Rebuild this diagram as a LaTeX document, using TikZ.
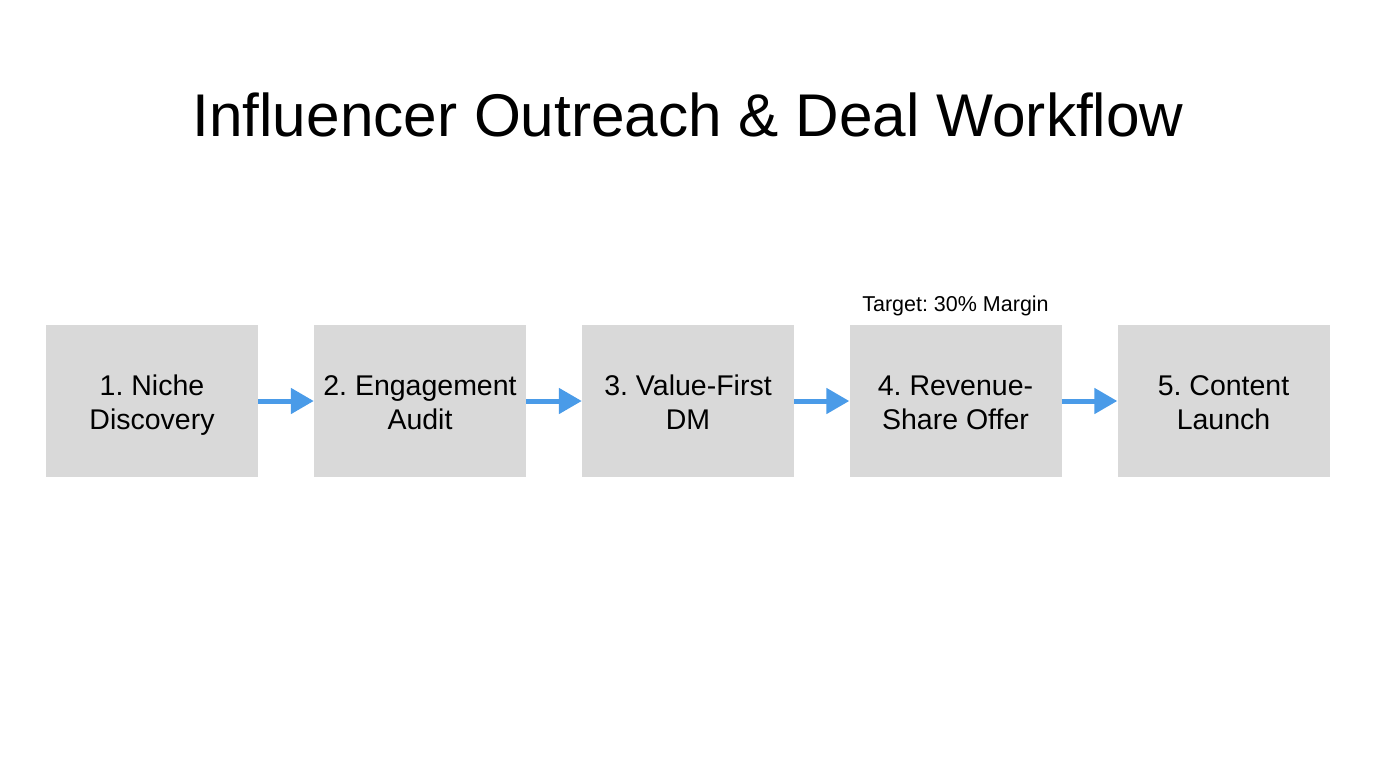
\documentclass[tikz,border=0pt]{standalone}
\usepackage{fontspec}
\setmainfont{Liberation Sans}
\usetikzlibrary{arrows.meta}
\frenchspacing
\definecolor{boxgray}{HTML}{D9D9D9}
\definecolor{arrowblue}{HTML}{4A9BE8}
\newcommand{\topstrut}{\rule{0pt}{34pt}}
\tikzset{
  stepbox/.style={fill=boxgray, draw=none, minimum width=212pt, minimum height=152pt, inner sep=0pt, align=center, font=\fontsize{28.5}{34}\selectfont, text=black},
  flow/.style={draw=arrowblue, line width=5pt, -{Triangle[length=23pt,width=25pt]}, shorten >=0pt}
}
\begin{document}
\begin{tikzpicture}[x=1pt,y=-1pt]
\useasboundingbox (0,0) rectangle (1376,768);
\node[font=\fontsize{60.3}{70}\selectfont] (title) at (688,115) {Influencer Outreach \& Deal Workflow};
\node[stepbox] (s1) at (152,401) {\topstrut1. Niche\\Discovery\strut};
\node[stepbox] (s2) at (420,401) {\topstrut2. Engagement\\Audit\strut};
\node[stepbox] (s3) at (688,401) {\topstrut3. Value-First\\DM\strut};
\node[stepbox] (s4) at (955.5,401) {\topstrut4. Revenue-\\Share Offer\strut};
\node[stepbox] (s5) at (1223.5,401) {\topstrut5. Content\\Launch\strut};
\node[font=\fontsize{21.5}{24}\selectfont] (note) at (955.5,306) {Target: 30\% Margin};
\draw[flow] (s1.east) -- (s2.west);
\draw[flow] (s2.east) -- (s3.west);
\draw[flow] (s3.east) -- (s4.west);
\draw[flow] (s4.east) -- (s5.west);
\end{tikzpicture}
\end{document}
